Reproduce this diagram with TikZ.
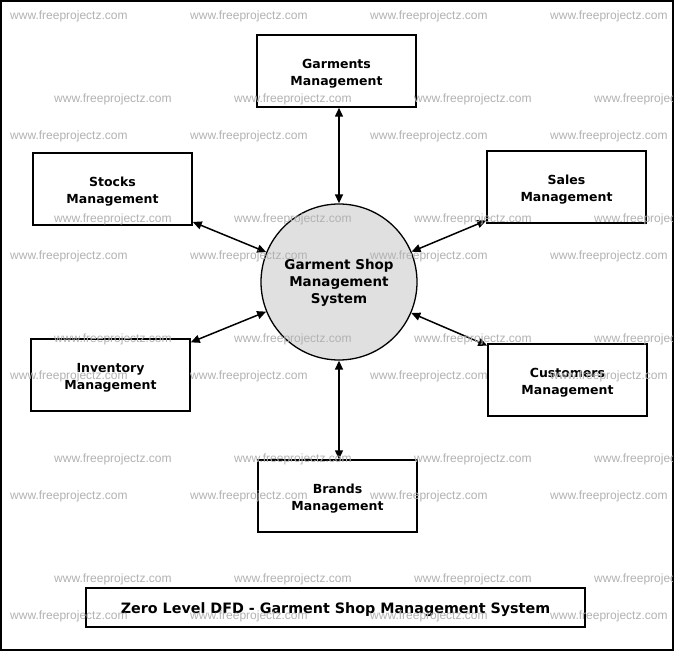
\documentclass[tikz,border=0pt]{standalone}
\usepackage{fontspec}
\setmainfont{DejaVu Sans}
\newfontfamily\wmfont{Liberation Sans}
\usetikzlibrary{arrows.meta}
\definecolor{wmgray}{RGB}{178,178,178}
\definecolor{sysfill}{RGB}{224,224,224}
\begin{document}
\begin{tikzpicture}[x=1pt,y=-1pt,
  procbox/.style={draw=black,line width=1.5pt,fill=white,minimum width=159pt,minimum height=72pt,inner sep=0pt},
  boxlbl/.style={align=center,font=\bfseries\fontsize{12.5}{17}\selectfont,inner sep=0pt,yshift=-3pt},
  sysnode/.style={circle,draw=black,line width=1.3pt,fill=sysfill,minimum size=156pt,inner sep=0pt},
  syslbl/.style={align=center,font=\bfseries\fontsize{13.5}{17}\selectfont,inner sep=0pt,yshift=-1pt},
  titlebox/.style={draw=black,line width=1.5pt,fill=white,minimum width=499pt,minimum height=39pt,inner sep=0pt},
  titlelbl/.style={font=\bfseries\fontsize{14.3}{17}\selectfont,inner sep=0pt,yshift=-2pt},
  flow/.style={line width=1.5pt,{Triangle[length=9pt,width=8pt]}-{Triangle[length=9pt,width=8pt]}},
  wm/.style={text=wmgray,font=\wmfont\fontsize{12}{12}\selectfont,inner sep=0pt,anchor=west}]
\useasboundingbox (0,0) rectangle (675,652);
\fill[white] (0,0) rectangle (675,652);
\draw[line width=2pt] (1,1) rectangle (673,650);

\node[procbox,label={[boxlbl]center:Garments\\Management}] (garm) at (336.5,71) {};
\node[procbox,label={[boxlbl]center:Stocks\\Management}] (stock) at (112.5,189) {};
\node[procbox,label={[boxlbl]center:Sales\\Management}] (sales) at (566.5,187) {};
\node[procbox,label={[boxlbl]center:Inventory\\Management}] (inv) at (110.5,375) {};
\node[procbox,label={[boxlbl]center:Customers\\Management}] (cust) at (567.5,380) {};
\node[procbox,label={[boxlbl]center:Brands\\Management}] (brand) at (337.5,496) {};
\node[sysnode,label={[syslbl]center:Garment Shop\\Management\\System}] (sys) at (339,282) {};
\node[titlebox,label={[titlelbl]center:Zero Level DFD - Garment Shop Management System}] (title) at (335.5,607.5) {};

\draw[flow] (sys.north) -- (sys.north |- garm.south);
\draw[flow] (sys.south) -- (sys.south |- brand.north);
\draw[flow] (stock) -- (sys);
\draw[flow] (sales) -- (sys);
\draw[flow] (inv) -- (sys);
\draw[flow] (cust) -- (sys);

\begin{scope}
\clip (2,2) rectangle (672,649);
\foreach \yy in {16,136,256,376,496,616}{
  \foreach \xx in {10,190,370,550}{
    \node[wm] (wa\xx-\yy) at (\xx,\yy) {www.freeprojectz.com};
  }
}
\foreach \yy in {99,219,339,459,579}{
  \foreach \xx in {54,234,414,594}{
    \node[wm] (wb\xx-\yy) at (\xx,\yy) {www.freeprojectz.com};
  }
}
\end{scope}
\end{tikzpicture}
\end{document}
